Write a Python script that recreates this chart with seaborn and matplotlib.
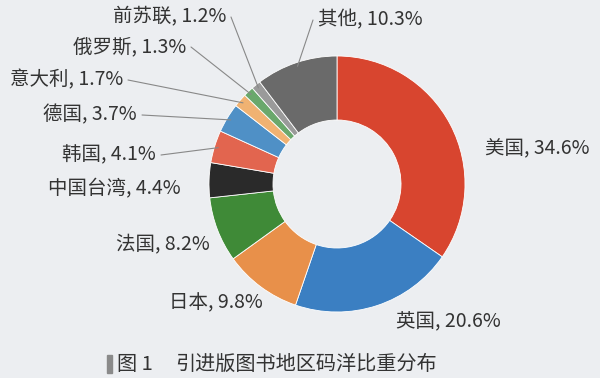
import numpy as np
import seaborn as sns
import matplotlib.pyplot as plt

sns.set_theme(style="white")
plt.rcParams['font.family'] = ['Noto Sans CJK SC', 'DejaVu Sans']

# Data
regions = ["美国", "英国", "日本", "法国", "中国台湾", "韩国", "德国",
           "意大利", "俄罗斯", "前苏联", "其他"]
shares = [34.6, 20.6, 9.8, 8.2, 4.4, 4.1, 3.7, 1.7, 1.3, 1.2, 10.3]
colors = ["#d8452f", "#3b7fc2", "#e8904a", "#3f8a37", "#2a2a2a", "#e2654f",
          "#4f90c6", "#f0b272", "#6aa86c", "#9a9a9a", "#6a6a6a"]
caption_num = "图 1"
caption = "引进版图书地区码洋比重分布"

# Label placement (pixel coords, y from top) and alignment
label_pos = {
    "美国": (485, 149, "left"), "英国": (396, 322, "left"),
    "日本": (263, 303, "right"), "法国": (210, 245, "right"),
    "中国台湾": (181, 189, "right"), "韩国": (156, 155, "right"),
    "德国": (137, 115, "right"), "意大利": (123, 80, "right"),
    "俄罗斯": (186, 47, "right"), "前苏联": (226, 17, "right"),
    "其他": (318, 20, "left"),
}
leaders = {"韩国", "德国", "意大利", "俄罗斯", "前苏联", "其他"}

W, H = 600, 378
fig = plt.figure(figsize=(6, 3.78), dpi=100)
fig.patch.set_facecolor("#eceef1")
ax = fig.add_axes([0, 0, 1, 1])
ax.axis("off")

cx, cy, r = 337, H - 184, 128
wedges, _ = ax.pie(shares, colors=colors, startangle=90, counterclock=False,
                   center=(cx, cy), radius=r,
                   wedgeprops=dict(width=r * 0.5, edgecolor="white", linewidth=0.6))
ax.set_xlim(0, W)
ax.set_ylim(0, H)
ax.set_aspect("equal")

total = sum(shares)
cum = np.cumsum([0] + shares[:-1])
for name, v, c0 in zip(regions, shares, cum):
    tx, ty, ha = label_pos[name]
    ty = H - ty
    ax.text(tx, ty, f"{name}, {v}%", ha=ha, va="center", fontsize=14, color="#333333")
    if name in leaders:
        ang = np.deg2rad(90 - 360 * (c0 + v / 2) / total)
        px, py = cx + r * 0.97 * np.cos(ang), cy + r * 0.97 * np.sin(ang)
        sx = tx + (5 if ha == "right" else -5)
        ax.plot([sx, px], [ty, py], color="#888888", lw=0.8)

ax.add_patch(plt.Rectangle((107, H - 373), 5, 18, color="#8a8a8a"))
ax.text(117, H - 364, caption_num, ha="left", va="center", fontsize=14.5, color="#333333")
ax.text(175, H - 364, caption, ha="left", va="center", fontsize=14.5, color="#333333")

fig.savefig("out.png", dpi=100, facecolor=fig.get_facecolor())
